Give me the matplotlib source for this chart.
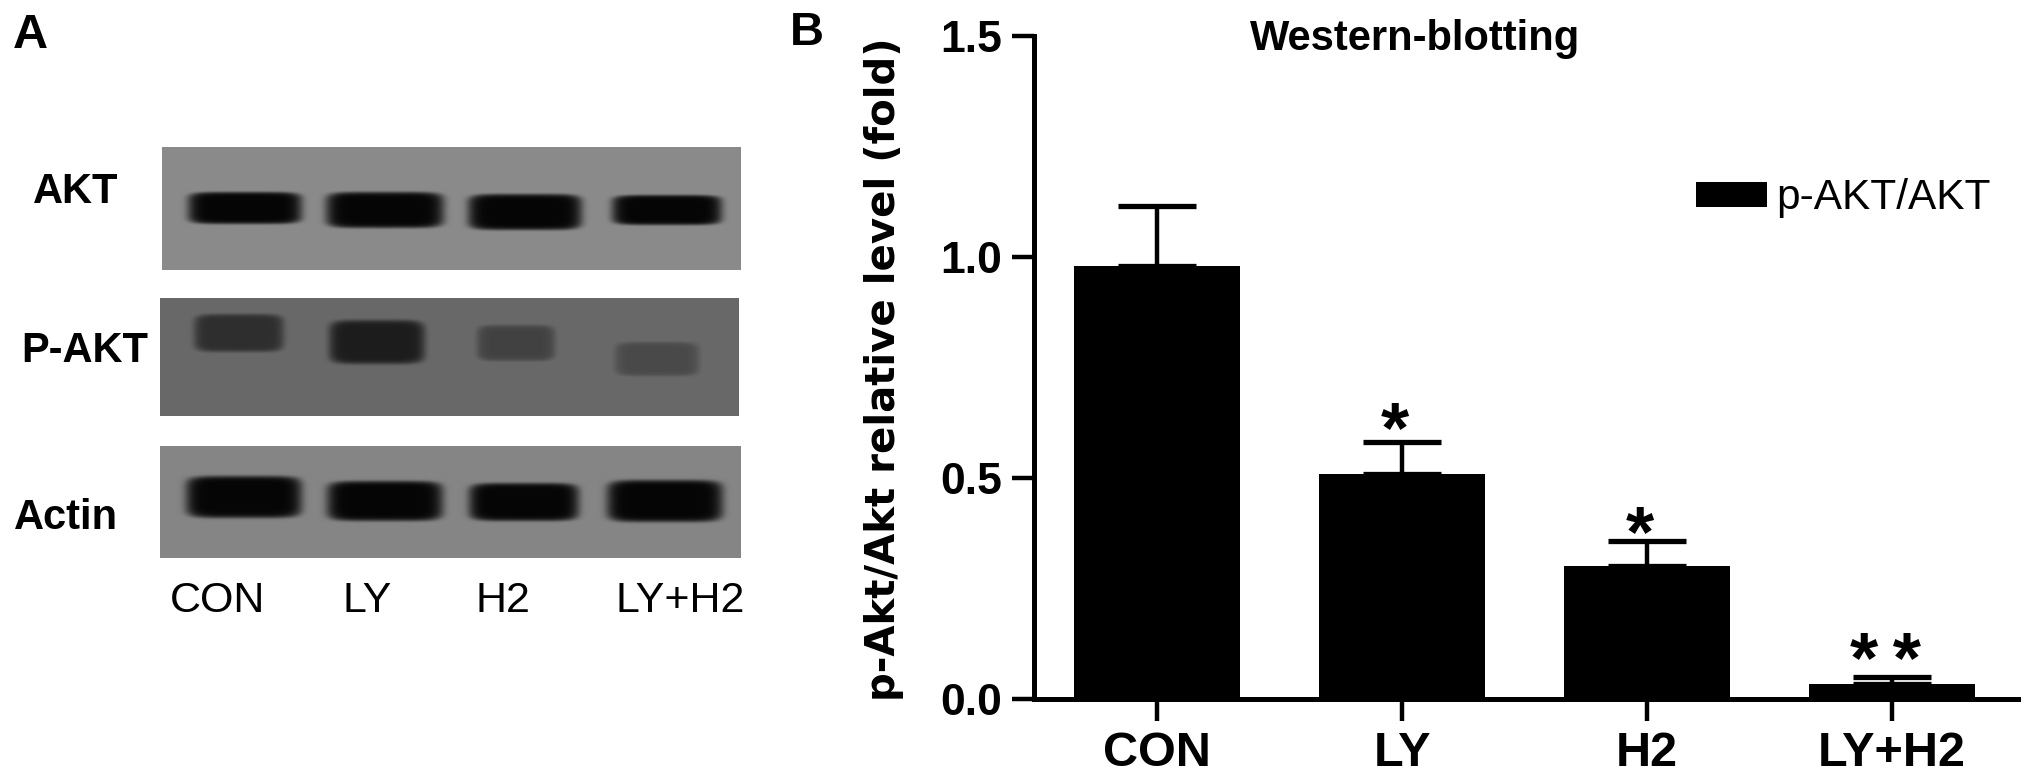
import numpy as np
import matplotlib
matplotlib.use("Agg")
import matplotlib.pyplot as plt

W, H = 2031, 777
plt.rcParams['font.family'] = ['Liberation Sans', 'DejaVu Sans']

# Panel B data
groups = ['CON', 'LY', 'H2', 'LY+H2']
means = [0.98, 0.51, 0.302, 0.034]
upper_err = [0.136, 0.072, 0.055, 0.016]
stars = ['', '*', '*', '*\u2009*']
star_lift = [0, 6, 3, 9]
y_ticks = [0.0, 0.5, 1.0, 1.5]
series_name = 'p-AKT/AKT'

# Panel A: blot panels (label, box in px, background grey) and bands per lane
lanes = ['CON', 'LY', 'H2', 'LY+H2']
blot_names = ['AKT', 'P-AKT', 'Actin']
blot_boxes = [(162, 147, 741, 270), (160, 298, 739, 416), (160, 446, 741, 558)]
blot_bg = [0.54, 0.41, 0.52]
band_x = [[245, 385, 525, 667], [239, 377, 516, 657], [244, 385, 524, 665]]
band_y = [[208, 210, 212, 210], [333, 342, 343, 359], [497, 501, 502, 501]]
band_hw = [[57, 59, 57, 55], [45, 48, 39, 42], [58, 58, 55, 58]]
band_hh = [[16, 18, 18, 15], [19, 22, 18, 17], [21, 20, 19, 21]]
band_grey = [[0.02, 0.02, 0.02, 0.02], [0.18, 0.11, 0.26, 0.29], [0.02, 0.02, 0.02, 0.02]]


def P(x, y):
    return x / W, 1 - y / H


fig = plt.figure(figsize=(W / 100, H / 100), dpi=100, facecolor='white')

# Blots
for box, bg, xs, ys, hws, hhs, greys in zip(blot_boxes, blot_bg, band_x, band_y,
                                            band_hw, band_hh, band_grey):
    x0, y0, x1, y1 = box
    ax = fig.add_axes([x0 / W, 1 - y1 / H, (x1 - x0) / W, (y1 - y0) / H])
    gx, gy = np.meshgrid(np.arange(x0, x1) + .5, np.arange(y0, y1) + .5)
    img = np.full(gx.shape, bg, dtype=float)
    for bx, by, hw, hh, g in zip(xs, ys, hws, hhs, greys):
        d = (np.abs((gx - bx) / hw) ** 6 + np.abs((gy - by) / hh) ** 6)
        a = np.exp(-d ** 2)
        img = img * (1 - a) + g * a
    ax.imshow(img, cmap='gray', vmin=0, vmax=1, aspect='auto', interpolation='bilinear')
    ax.axis('off')

# Panel letters and blot labels
fig.text(*P(30, 35), 'A', fontsize=35, fontweight='bold', ha='center', va='center')
fig.text(*P(807, 33), 'B', fontsize=34, fontweight='bold', ha='center', va='center')
for name, (tx, ty) in zip(blot_names, [(76, 192), (85, 351), (66, 518)]):
    fig.text(*P(tx, ty), name, fontsize=30, fontweight='bold', ha='center', va='center')
for name, (tx, ty) in zip(lanes, [(218, 601), (367, 601), (503, 601), (680, 601)]):
    fig.text(*P(tx, ty), name, fontsize=31, ha='center', va='center')

# Bar chart
ax = fig.add_axes([1034 / W, 1 - 699 / H, (2018 - 1034) / W, (699 - 36) / H])
x = np.arange(len(groups))
ax.bar(x, means, width=0.68, color='black', label=series_name, zorder=2)
ax.errorbar(x, means, yerr=[np.zeros(len(x)), upper_err], fmt='none', ecolor='black',
            elinewidth=3.2, capsize=28, capthick=3.8, zorder=1)
ax.set_xlim(-0.502, 3.514)
ax.set_ylim(0, 1.5)
ax.set_xticks(x, groups)
ax.set_yticks(y_ticks, [f'{v:.1f}' for v in y_ticks])
for s in ('top', 'right'):
    ax.spines[s].set_visible(False)
for s in ('left', 'bottom'):
    ax.spines[s].set_linewidth(3.6)
ax.tick_params(width=3.2, length=16, pad=7)
ax.tick_params(axis='x', labelsize=35)
ax.tick_params(axis='y', labelsize=32)
for lab in ax.get_xticklabels() + ax.get_yticklabels():
    lab.set_fontweight('bold')

for xi, m, e, s, lift in zip(x, means, upper_err, stars, star_lift):
    if s:
        ax.annotate(s, (xi, m + e), xytext=(-5, lift), textcoords='offset points',
                    fontsize=52, fontweight='bold', ha='center', va='center',
                    annotation_clip=False)

fig.text(*P(1415, 39), 'Western-blotting', fontsize=30, fontweight='bold',
         ha='center', va='center')
fig.text(*P(884, 369), 'p-Akt/Akt relative level (fold)', fontsize=29, rotation=90,
         family='DejaVu Sans', fontweight='bold', ha='center', va='center')
ax.legend(loc='center left', bbox_to_anchor=(0.673, 0.755), frameon=False, fontsize=30.5,
          handlelength=1.68, handleheight=0.55, handletextpad=0.2, borderpad=0, borderaxespad=0)

fig.savefig('out.png', dpi=100)
